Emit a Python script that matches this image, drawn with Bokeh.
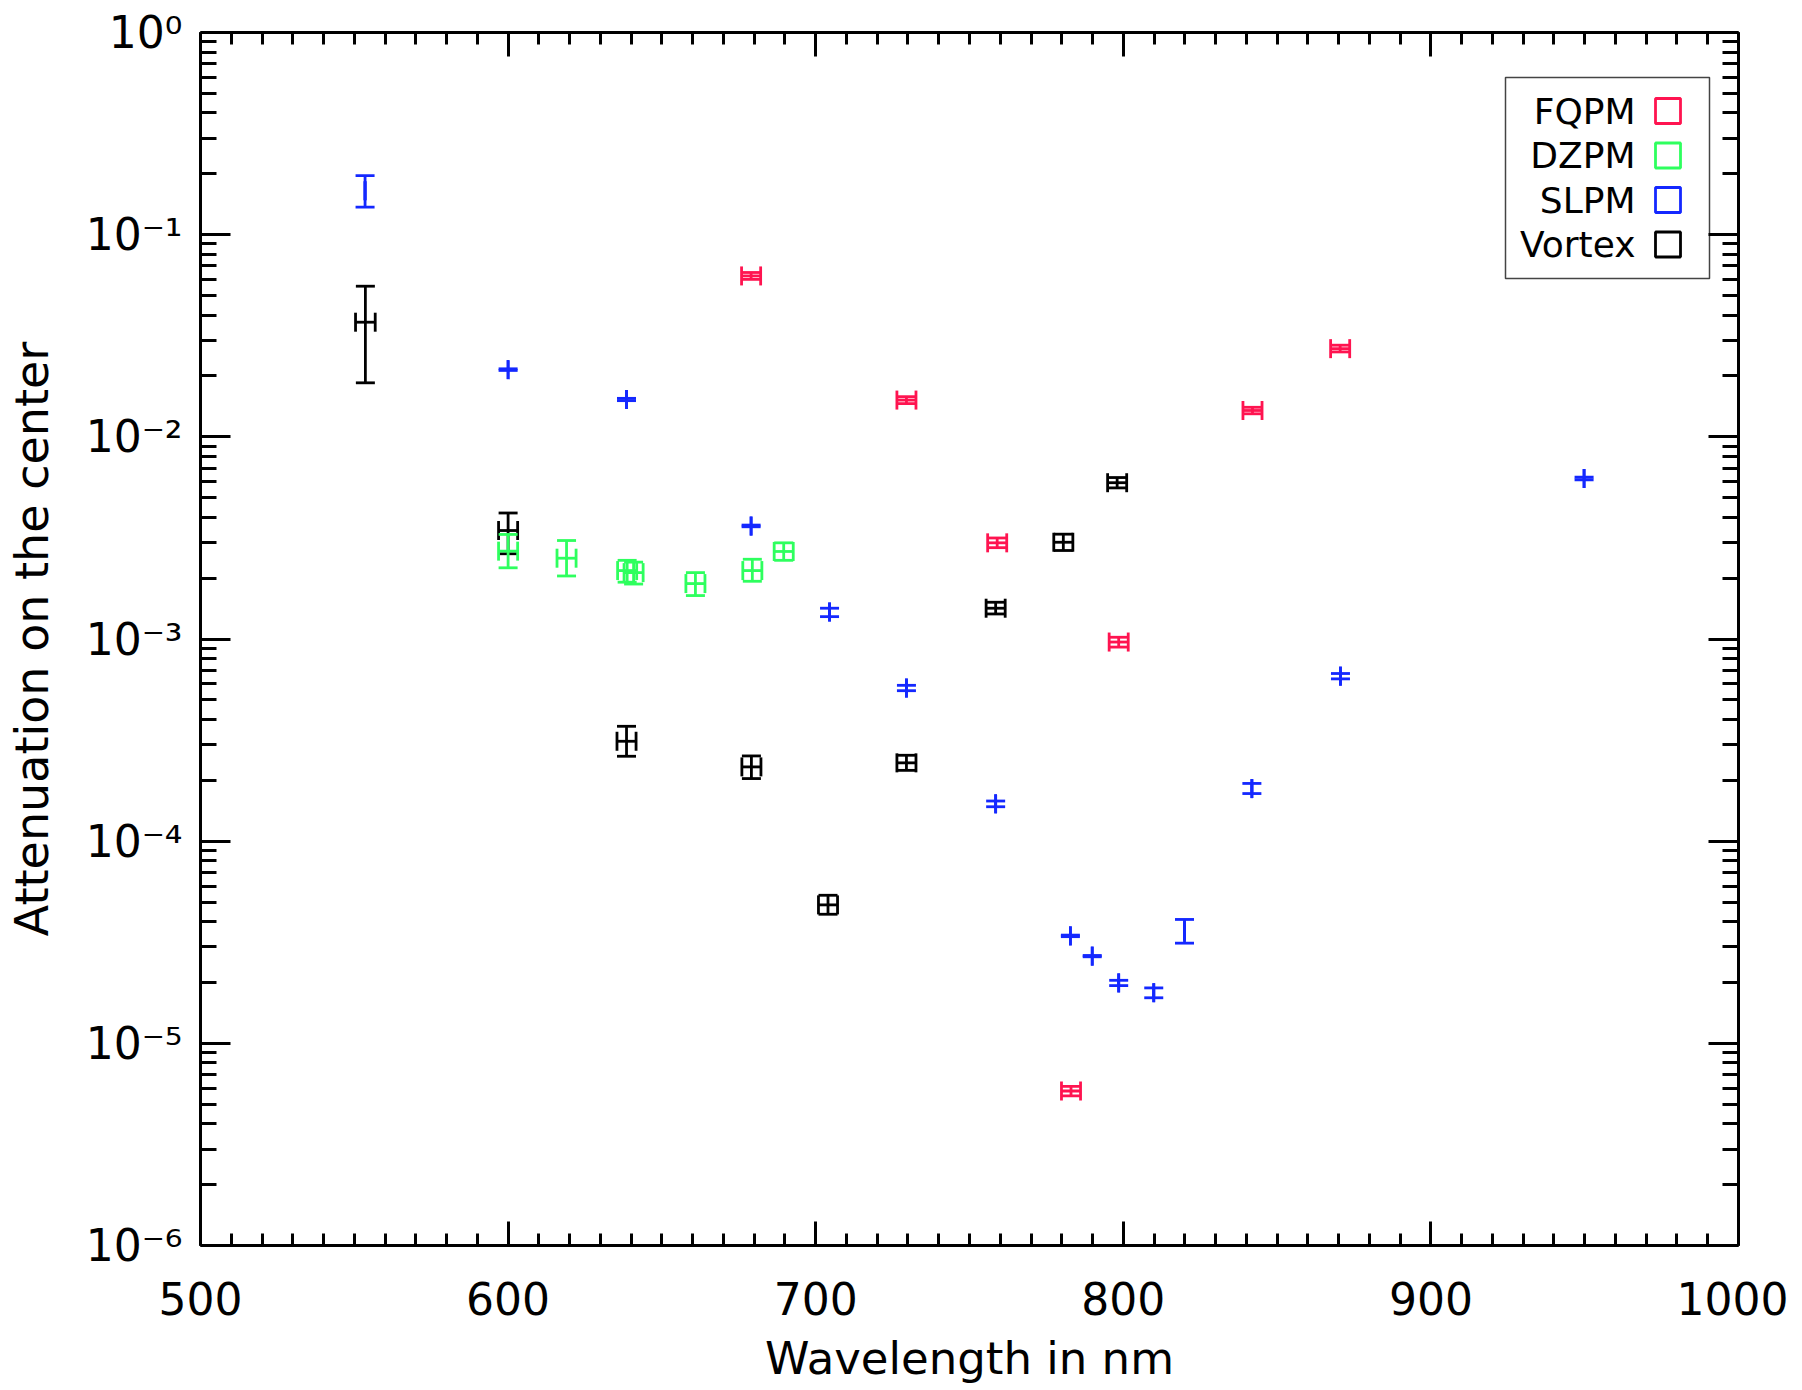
import numpy as np
from bokeh.plotting import figure
from bokeh.models import (ColumnDataSource, LinearAxis, LogAxis, FixedTicker,
                          SingleIntervalTicker, CustomJSTickFormatter, Range1d)
from bokeh.core.properties import value
from bokeh.embed import file_html
from bokeh.resources import INLINE

# ---------------- data ----------------
series_names = ["FQPM", "DZPM", "SLPM", "Vortex"]
series_colors = ["#FF1450", "#2EFF5E", "#1428FF", "#000000"]

fqpm_wl   = [679.0, 729.5, 759.0, 783.0, 798.5, 842.0, 870.5]
fqpm_xerr = [3.1, 3.1, 3.1, 3.1, 3.1, 3.1, 3.1]
fqpm_att  = [0.0625, 0.0152, 2.99e-3, 5.81e-6, 9.66e-4, 0.0135, 0.0273]
fqpm_lo   = [0.0601, 0.0146, 2.83e-3, 5.50e-6, 9.12e-4, 0.0130, 0.0263]
fqpm_hi   = [0.0650, 0.0158, 3.16e-3, 6.12e-6, 1.02e-3, 0.0140, 0.0284]

dzpm_wl   = [600.0, 619.0, 638.7, 640.8, 660.9, 679.4, 689.6]
dzpm_xerr = [3.1, 3.1, 3.1, 3.1, 3.1, 3.1, 3.1]
dzpm_att  = [2.72e-3, 2.51e-3, 2.18e-3, 2.13e-3, 1.88e-3, 2.18e-3, 2.71e-3]
dzpm_lo   = [2.25e-3, 2.05e-3, 1.91e-3, 1.87e-3, 1.64e-3, 1.93e-3, 2.45e-3]
dzpm_hi   = [3.29e-3, 3.07e-3, 2.45e-3, 2.40e-3, 2.13e-3, 2.48e-3, 2.99e-3]

slpm_wl   = [553.5, 600.0, 638.5, 679.0, 704.5, 729.5, 758.5, 782.8, 789.9,
             798.5, 809.9, 819.9, 841.8, 870.6, 949.8]
slpm_xerr = [0.0, 0.0, 0.0, 0.0, 0.0, 0.0, 0.0, 0.0, 0.0,
             0.0, 0.0, 0.0, 0.0, 0.0, 0.0]
slpm_att  = [0.165, 0.0215, 0.0153, 3.62e-3, 1.36e-3, 5.72e-4, 1.53e-4, 3.40e-5,
             2.70e-5, 1.99e-5, 1.78e-5, 3.60e-5, 1.82e-4, 6.55e-4, 6.22e-3]
slpm_lo   = [0.137, 0.0213, 0.0151, 3.59e-3, 1.29e-3, 5.55e-4, 1.48e-4, 3.37e-5,
             2.68e-5, 1.93e-5, 1.68e-5, 3.13e-5, 1.72e-4, 6.35e-4, 6.13e-3]
slpm_hi   = [0.196, 0.0217, 0.0155, 3.66e-3, 1.42e-3, 5.90e-4, 1.58e-4, 3.43e-5,
             2.72e-5, 2.05e-5, 1.88e-5, 4.10e-5, 1.93e-4, 6.75e-4, 6.31e-3]

vortex_wl   = [553.6, 600.0, 638.5, 679.1, 704.0, 729.5, 758.5, 780.5, 798.0]
vortex_xerr = [3.2, 3.1, 3.1, 3.1, 3.1, 3.1, 3.1, 3.1, 3.1]
vortex_att  = [0.0369, 3.44e-3, 3.12e-4, 2.33e-4, 4.84e-5, 2.44e-4, 1.42e-3, 3.01e-3, 5.93e-3]
vortex_lo   = [0.0185, 2.64e-3, 2.63e-4, 2.04e-4, 4.35e-5, 2.24e-4, 1.33e-3, 2.74e-3, 5.59e-3]
vortex_hi   = [0.0556, 4.20e-3, 3.70e-4, 2.64e-4, 5.40e-5, 2.66e-4, 1.52e-3, 3.30e-3, 6.29e-3]

x_ticks = [500, 600, 700, 800, 900, 1000]
y_decades = [-6, -5, -4, -3, -2, -1, 0]

# ---------------- layout constants ----------------
FONT = "DejaVu Sans"
FW, FH = 1538, 1213          # frame size in px
BL, BT, BR, BB = 200, 32, 50, 130
LW = 2.8
CAP = 19
X0, X1 = 500, 1000
Y0, Y1 = 1e-6, 1.0

p = figure(frame_width=FW, frame_height=FH, y_axis_type="log",
           x_range=Range1d(X0, X1), y_range=Range1d(Y0, Y1),
           output_backend="svg", toolbar_location=None,
           min_border_left=BL, min_border_top=BT, min_border_right=BR,
           min_border_bottom=BB, background_fill_color="white",
           border_fill_color="white")
p.outline_line_color = None
p.grid.visible = False

xticker = SingleIntervalTicker(interval=100, num_minor_ticks=10)
ymaj = [10.0 ** d for d in y_decades]
ymin = [m * 10.0 ** d for d in y_decades[:-1] for m in range(2, 10)]
yticker = FixedTicker(ticks=ymaj, minor_ticks=ymin)

yfmt = CustomJSTickFormatter(code=r"""
const sup = {"-":"\u207b","0":"\u2070","1":"\u00b9","2":"\u00b2","3":"\u00b3",
             "4":"\u2074","5":"\u2075","6":"\u2076","7":"\u2077","8":"\u2078","9":"\u2079"};
const e = Math.round(Math.log10(tick));
let s = "10";
for (const c of String(e)) { s += sup[c]; }
return s;
""")

def style_axis(ax, major_len, minor_len):
    ax.axis_line_width = 3
    ax.axis_line_color = "black"
    ax.major_tick_line_width = 3
    ax.minor_tick_line_width = 3
    ax.major_tick_line_color = "black"
    ax.minor_tick_line_color = "black"
    ax.major_tick_in = major_len
    ax.major_tick_out = 0
    ax.minor_tick_in = minor_len
    ax.minor_tick_out = 0

# bottom axis
xb = p.xaxis[0]
xb.ticker = xticker
style_axis(xb, 24, 12)
xb.major_label_text_font = FONT
xb.major_label_text_font_size = "44px"
xb.major_label_text_color = "black"
xb.major_label_standoff = 36
xb.axis_label = "Wavelength in nm"
xb.axis_label_text_font = FONT
xb.axis_label_text_font_size = "45px"
xb.axis_label_text_font_style = "normal"
xb.axis_label_text_color = "black"
xb.axis_label_standoff = 14

# left axis
yl = p.yaxis[0]
yl.ticker = yticker
yl.formatter = yfmt
style_axis(yl, 30, 16)
yl.major_label_text_font = FONT
yl.major_label_text_font_size = "44px"
yl.major_label_text_color = "black"
yl.major_label_standoff = 18
yl.axis_label = "Attenuation on the center"
yl.axis_label_text_font = FONT
yl.axis_label_text_font_size = "46px"
yl.axis_label_text_font_style = "normal"
yl.axis_label_text_color = "black"
yl.axis_label_standoff = 24

# top & right axes (ticks only, labels not drawn)
xt = LinearAxis(ticker=xticker, major_label_text_font_size="2px",
                major_label_text_color=None, major_label_standoff=0)
style_axis(xt, 24, 12)
p.add_layout(xt, "above")
yr = LogAxis(ticker=yticker, major_label_text_font_size="2px",
             major_label_text_color=None, major_label_standoff=0)
style_axis(yr, 30, 16)
p.add_layout(yr, "right")

# ---------------- error-bar marks ----------------
def draw(wl, xerr, att, lo, hi, color):
    src = ColumnDataSource(dict(
        x=wl, y=att, lo=lo, hi=hi,
        xl=[a - e for a, e in zip(wl, xerr)],
        xr=[a + e for a, e in zip(wl, xerr)]))
    kw = dict(source=src, line_color=color, line_width=LW)
    p.segment(x0="xl", y0="y", x1="xr", y1="y", **kw)
    p.segment(x0="x", y0="lo", x1="x", y1="hi", **kw)
    p.scatter(x="xl", y="y", marker="dash", angle=np.pi / 2, size=CAP, **kw)
    p.scatter(x="xr", y="y", marker="dash", angle=np.pi / 2, size=CAP, **kw)
    p.scatter(x="x", y="lo", marker="dash", angle=0, size=CAP, **kw)
    p.scatter(x="x", y="hi", marker="dash", angle=0, size=CAP, **kw)

draw(vortex_wl, vortex_xerr, vortex_att, vortex_lo, vortex_hi, series_colors[3])
draw(dzpm_wl, dzpm_xerr, dzpm_att, dzpm_lo, dzpm_hi, series_colors[1])
draw(slpm_wl, slpm_xerr, slpm_att, slpm_lo, slpm_hi, series_colors[2])
draw(fqpm_wl, fqpm_xerr, fqpm_att, fqpm_lo, fqpm_hi, series_colors[0])

# ---------------- legend (frame-pixel placement) ----------------
def xd(px):   # px from frame left -> data x
    return X0 + px / FW * (X1 - X0)

def yd(py):   # px from frame top -> data y (log)
    return 10 ** (np.log10(Y1) - py / FH * (np.log10(Y1) - np.log10(Y0)))

p.quad(left=[xd(1305)], right=[xd(1509)], top=[yd(45)], bottom=[yd(246)],
       fill_color="white", line_color="#444444", line_width=1.5)
rows = [0, 1, 2, 3]
p.text(x=[xd(1435)] * 4, y=[yd(78.5 + 44.5 * r) for r in rows], text=series_names,
       text_font=value(FONT), text_font_size="36px", text_color="black",
       text_align="right", text_baseline="middle")
p.scatter(x=[xd(1467.5)] * 4, y=[yd(78.5 + 44.5 * r) for r in rows],
          marker="square", size=25, fill_color=None,
          line_color=series_colors, line_width=2.8)

open("out.html", "w").write(file_html(p, INLINE))
